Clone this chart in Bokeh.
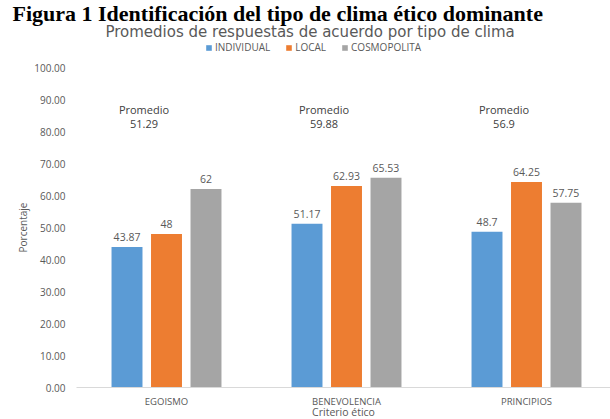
from bokeh.plotting import figure
from bokeh.models import (Range1d, FixedTicker, NumeralTickFormatter, Label,
                          Legend, LegendItem, ColumnDataSource)
from bokeh.core.properties import value
from bokeh.embed import file_html
from bokeh.resources import INLINE

# ---------------- data ----------------
categories = ["EGOISMO", "BENEVOLENCIA", "PRINCIPIOS"]
series_names = ["INDIVIDUAL", "LOCAL", "COSMOPOLITA"]
individual = [43.87, 51.17, 48.7]
local = [48, 62.93, 64.25]
cosmopolita = [62, 65.53, 57.75]
promedios = ["51.29", "59.88", "56.9"]
y_ticks = [0, 10, 20, 30, 40, 50, 60, 70, 80, 90, 100]
title_text = "Figura 1  Identificación del tipo de clima ético dominante"
subtitle_text = "Promedios de respuestas de acuerdo por tipo de  clima"
x_label = "Criterio ético"
y_label = "Porcentaje"

# ---------------- style / layout ----------------
colors = ["#5B9BD5", "#ED7D31", "#A5A5A5"]
FONT = "Open Sans"
W, H = 610, 419
AXIS_LEFT_PX = 76        # where the category axis begins
AXIS_BOTTOM_PX = 387     # where value 0 sits
PX_PER_CAT = 180
PX_PER_UNIT = 3.2
BAR_W = 0.172
DODGE = 0.2194
PROM_DX = -0.125
PROM_Y1 = 86.9
PROM_Y2 = 82.3

x0 = -0.5 - AXIS_LEFT_PX / PX_PER_CAT
x1 = -0.5 + (W - AXIS_LEFT_PX) / PX_PER_CAT
y0 = -(H - AXIS_BOTTOM_PX) / PX_PER_UNIT
y1 = AXIS_BOTTOM_PX / PX_PER_UNIT


def px_x(px):
    return x0 + px / PX_PER_CAT


def px_y(py):
    return (AXIS_BOTTOM_PX - py) / PX_PER_UNIT


p = figure(width=W, height=H, output_backend="svg", toolbar_location=None,
           x_range=Range1d(x0, x1), y_range=Range1d(y0, y1),
           min_border=0, outline_line_color=None)
p.background_fill_color = "white"
p.border_fill_color = "white"
p.grid.visible = False

series = [individual, local, cosmopolita]
idx = list(range(len(categories)))
renderers = []
for k, (vals, col) in enumerate(zip(series, colors)):
    xs = [i + (k - 1) * DODGE for i in idx]
    src = ColumnDataSource(dict(x=xs, top=vals,
                                lab=[f"{v:g}" for v in vals]))
    r = p.vbar(x="x", top="top", width=BAR_W, source=src,
               fill_color=col, line_color=None)
    renderers.append(r)
    p.text(x="x", y="top", text="lab", source=src, text_align="center",
           text_baseline="middle", y_offset=-10,
           text_font=value(FONT), text_font_size="10.5px",
           text_color="#595959")

psrc = ColumnDataSource(dict(x=[i + PROM_DX for i in idx],
                             y1=[PROM_Y1] * 3, y2=[PROM_Y2] * 3,
                             t1=["Promedio"] * 3, t2=promedios))
for ycol, tcol in (("y1", "t1"), ("y2", "t2")):
    p.text(x="x", y=ycol, text=tcol, source=psrc, text_align="center",
           text_baseline="middle", text_font=value(FONT),
           text_font_size="11px", text_color="#404040")

# axes placed at value 0 / left edge of the categories
xa = p.xaxis[0]
xa.fixed_location = 0
xa.bounds = (-0.5, x1)
xa.ticker = FixedTicker(ticks=idx)
xa.major_label_overrides = {i: c for i, c in enumerate(categories)}
xa.major_tick_line_color = None
xa.minor_tick_line_color = None
xa.axis_line_color = "#D9D9D9"
xa.major_label_standoff = 1
xa.major_label_text_font = FONT
xa.major_label_text_font_size = "9.5px"
xa.major_label_text_color = "#595959"
xa.axis_label = x_label
xa.axis_label_standoff = -6
xa.axis_label_text_font = FONT
xa.axis_label_text_font_size = "10.5px"
xa.axis_label_text_font_style = "normal"
xa.axis_label_text_color = "#595959"

ya = p.yaxis[0]
ya.fixed_location = -0.5
ya.bounds = (0, 100)
ya.ticker = FixedTicker(ticks=y_ticks)
ya.formatter = NumeralTickFormatter(format="0.00")
ya.axis_line_color = None
ya.major_tick_line_color = None
ya.minor_tick_line_color = None
ya.major_label_standoff = 5
ya.major_label_text_font = FONT
ya.major_label_text_font_size = "10px"
ya.major_label_text_color = "#595959"
ya.axis_label = y_label
ya.axis_label_standoff = 1
ya.axis_label_text_font = FONT
ya.axis_label_text_font_size = "10px"
ya.axis_label_text_font_style = "normal"
ya.axis_label_text_color = "#595959"

# titles
p.add_layout(Label(x=px_x(12), y=px_y(13), text=title_text, text_align="left",
                   text_baseline="middle", text_font="Liberation Serif",
                   text_font_style="bold", text_font_size="22px",
                   text_color="#000000"))
p.add_layout(Label(x=px_x(312), y=px_y(31), text=subtitle_text,
                   text_align="center", text_baseline="middle",
                   text_font="DejaVu Sans", text_font_size="15px",
                   text_color="#595959"))

legend = Legend(items=[LegendItem(label=n, renderers=[r])
                       for n, r in zip(series_names, renderers)],
                orientation="horizontal", location=(205, H - 54),
                glyph_width=7, glyph_height=7, label_standoff=3,
                spacing=15, padding=0, margin=0, label_height=10,
                label_text_font=FONT, label_text_font_size="10px",
                label_text_color="#595959", border_line_color=None,
                background_fill_alpha=0)
p.add_layout(legend, "center")

open("out.html", "w").write(file_html(p, INLINE))
